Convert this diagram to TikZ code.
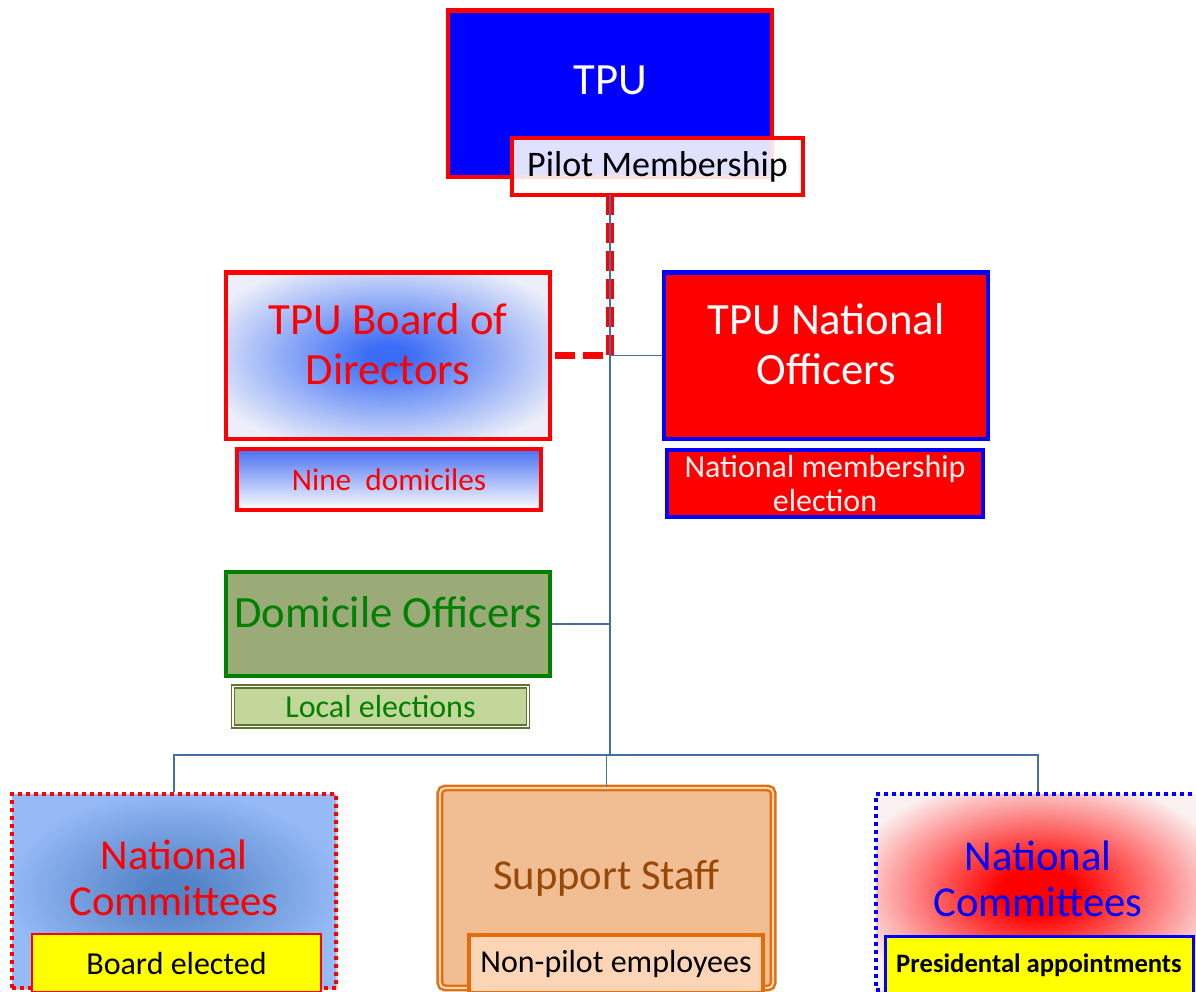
\documentclass[tikz,border=0pt]{standalone}
\usepackage{fontspec}
\setmainfont{Carlito}
\usetikzlibrary{shadows}

\definecolor{tpublue}{RGB}{0,0,255}
\definecolor{tpured}{RGB}{255,0,0}
\definecolor{linkblue}{RGB}{68,112,157}
\definecolor{boardcore}{RGB}{58,108,245}
\definecolor{boardrim}{RGB}{236,239,249}
\definecolor{ninetop}{RGB}{72,112,242}
\definecolor{domfill}{RGB}{155,171,120}
\definecolor{domgreen}{RGB}{0,128,0}
\definecolor{localfill}{RGB}{196,215,155}
\definecolor{localrim}{RGB}{94,116,48}
\definecolor{nccore}{RGB}{84,132,200}
\definecolor{ncrim}{RGB}{150,186,246}
\definecolor{ncpale}{RGB}{251,240,240}
\definecolor{staffrim}{RGB}{228,108,10}
\definecolor{stafffill}{RGB}{241,190,148}
\definecolor{staffpale}{RGB}{250,216,186}
\definecolor{stafftext}{RGB}{152,72,7}
\definecolor{nonpilotfill}{RGB}{251,213,181}
\definecolor{yellowtag}{RGB}{255,255,0}

% centre-out fills of the big boxes
\pgfdeclareradialshading{boardglow}{\pgfpoint{0bp}{0bp}}{color(0bp)=(boardcore); color(3bp)=(boardcore); color(30bp)=(boardrim); color(60bp)=(boardrim)}
\pgfdeclareradialshading{ncglow}{\pgfpoint{0bp}{0bp}}{color(0bp)=(nccore); color(4bp)=(nccore); color(26bp)=(ncrim); color(60bp)=(ncrim)}
\pgfdeclareradialshading{redglow}{\pgfpoint{0bp}{0bp}}{color(0bp)=(tpured); color(6bp)=(tpured); color(30bp)=(ncpale); color(60bp)=(ncpale)}

\begin{document}
\begin{tikzpicture}[x=0.75pt, y=-0.75pt,
  box/.style={inner sep=0pt, align=center, line width=3.5pt},
  shadowed/.style={drop shadow={shadow xshift=1.5pt, shadow yshift=-1.5pt, opacity=0.3}},
  bigtext/.style={font=\fontsize{33.5}{37.5}\selectfont},
  midtext/.style={font=\fontsize{32}{35}\selectfont},
  tagtext/.style={font=\fontsize{24}{25.5}\selectfont},
  liftText/.style={text depth=#1},
  dotrim/.style={line width=3pt, dash pattern=on 3pt off 3pt},
  orgline/.style={draw=linkblue, line width=1.1pt},
  boardlink/.style={draw=tpured, line width=5.5pt, dash pattern=on 15pt off 6pt}]
  \fill[white] (0,0) rectangle (1196,992);
  \useasboundingbox (0,0) rectangle (1196,992);

  % top
  \node[box, shadowed, fill=tpublue, draw=tpured, text=white, bigtext, liftText=20pt,
    minimum width=243pt, minimum height=125pt] (tpu) at (610,93.5) {TPU};
  \node[box, fill=white, fill opacity=0.88, text opacity=1, draw=tpured, line width=3pt,
    font=\fontsize{27}{30}\selectfont, minimum width=218pt, minimum height=43pt] (pilot) at (657.5,166.5) {Pilot Membership};

  % board / officers
  \node[box, shadowed, shade, shading=boardglow, draw=tpured, text=tpured, bigtext, liftText=17pt,
    minimum width=243pt, minimum height=125pt] (board) at (388,355.5) {TPU Board of\\Directors};
  \node[box, top color=ninetop, bottom color=white, draw=tpured, line width=3pt, text=tpured,
    font=\fontsize{23.5}{26}\selectfont, minimum width=228pt, minimum height=46pt] (nine) at (389,479.5) {Nine\ \ domiciles};
  \node[box, shadowed, fill=tpured, draw=tpublue, text=white, bigtext, liftText=17pt,
    minimum width=243pt, minimum height=125pt] (natoff) at (826,355.5) {TPU National\\Officers};
  \node[box, fill=tpured, draw=tpublue, line width=3pt, text=white!94!red, tagtext,
    minimum width=237pt, minimum height=50pt] (nme) at (825,483.5) {National membership\\election};

  % domicile
  \node[box, shadowed, fill=domfill, draw=domgreen, line width=3pt, text=domgreen, bigtext, liftText=18pt,
    minimum width=243pt, minimum height=78pt] (domoff) at (388,624) {Domicile Officers};
  \node[box, fill=localfill, draw=localrim, double=white, double distance=1.2pt, line width=1.1pt,
    text=domgreen, tagtext, minimum width=221pt, minimum height=30pt] (local) at (380.5,706.5) {Local elections};

  % bottom row
  \node[box, shadowed, shade, shading=ncglow, draw=tpured, dotrim, text=tpured, midtext, liftText=20pt,
    minimum width=243pt, minimum height=145.5pt] (ncleft) at (174,891) {National\\Committees};
  \node[box, fill=yellowtag, draw=tpured, line width=1.5pt, tagtext,
    minimum width=217pt, minimum height=43.5pt] (boardel) at (176.5,963) {Board elected};
  \node[box, shadowed, fill=stafffill, draw=staffrim, double=staffpale, double distance=1.6pt, line width=1.8pt,
    rounded corners=4pt, text=stafftext, midtext, liftText=20pt,
    minimum width=250pt, minimum height=150pt] (support) at (606.5,888) {Support Staff};
  \node[box, fill=nonpilotfill, draw=staffrim, line width=3pt, tagtext,
    minimum width=220pt, minimum height=43.5pt] (nonpilot) at (616,964) {Non-pilot employees};
  \node[box, shadowed, shade, shading=redglow, draw=tpublue, dotrim, text=tpublue, midtext, liftText=20pt,
    minimum width=243pt, minimum height=147pt] (ncright) at (1038,892) {National\\Committees};
  \node[box, fill=yellowtag, draw=tpublue, line width=2.25pt, font=\bfseries\fontsize{20}{22}\selectfont,
    minimum width=231pt, minimum height=43.5pt] (presid) at (1039,965) {Presidental appointments};

  % connectors
  \coordinate (trunk) at (610,195);
  \coordinate (bus) at (610,755);
  \draw[boardlink] (trunk) |- (board.east);
  \draw[orgline] (trunk) -- (bus);
  \draw[orgline] (natoff.west) -- (natoff.west -| trunk);
  \draw[orgline] (domoff.east) -- (domoff.east -| trunk);
  \draw[orgline] (ncleft.north) |- (bus) -| (ncright.north);
  \draw[orgline] (support.north) -- (support.north |- bus);
\end{tikzpicture}
\end{document}
